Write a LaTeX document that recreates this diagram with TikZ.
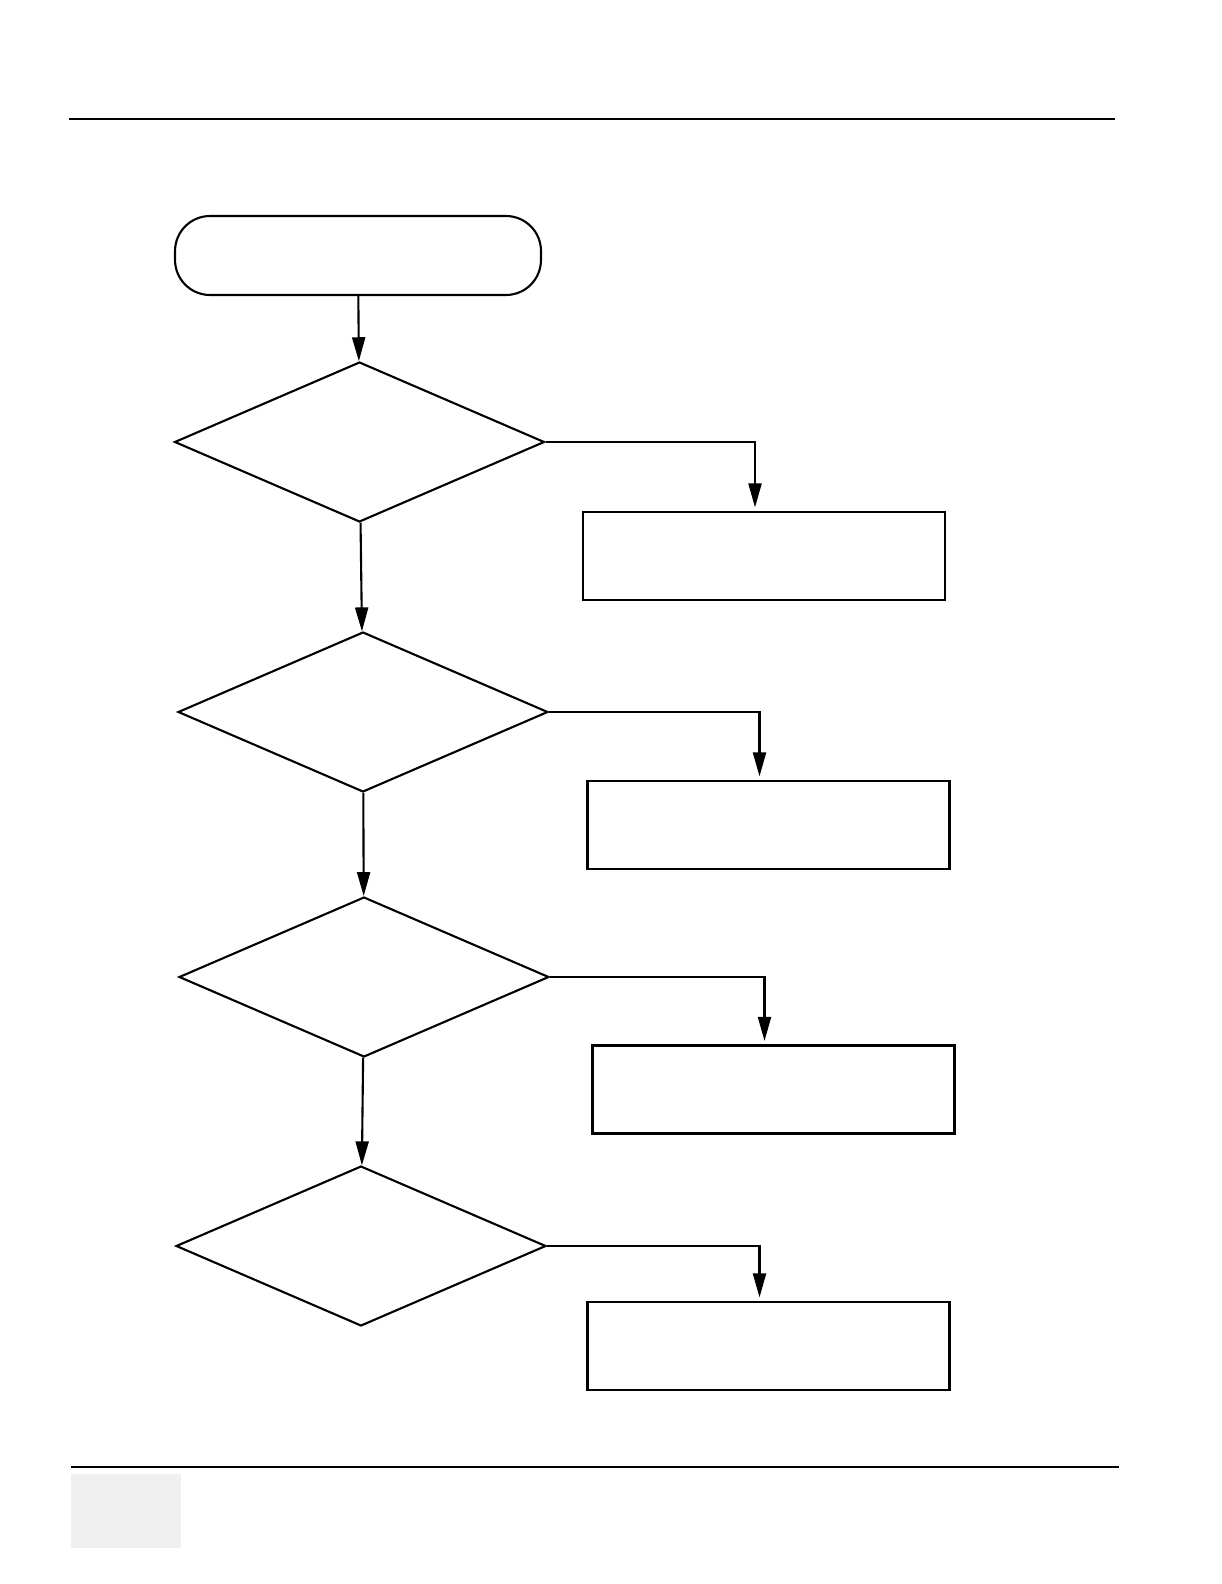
\documentclass[tikz,border=0pt]{standalone}
\usetikzlibrary{shapes.geometric,arrows.meta}
\begin{document}
\begin{tikzpicture}[x=0.02cm,y=-0.02cm,line width=1.2pt,>={Triangle[length=0.48cm,width=0.26cm]},
  decision/.style={draw,diamond,inner sep=0,minimum width=7.4cm,minimum height=3.2cm},
  action/.style={draw,rectangle,inner sep=0,minimum width=7.24cm,minimum height=1.76cm}]
  \useasboundingbox (0,0) rectangle (1222,1584);
  % page rules and footer tab
  \draw (69,119) -- (1115,119);
  \draw[line width=0.8pt] (71,1467) -- (1119,1467);
  \fill[black!6] (71,1474) rectangle (181,1548);
  \node[draw,rounded corners=0.7cm,minimum width=7.32cm,minimum height=1.58cm] (start) at (358,255.5) {};
  \foreach \i/\dx/\dy/\bx/\by in {1/359.5/442/764/556,2/363/712/768.5/825,3/364/977/773.5/1089.5,4/361/1246/768.5/1346} {
    \node[decision] (d\i) at (\dx,\dy) {};
    \node[action] (b\i) at (\bx,\by) {};
    \draw[->,shorten >=2pt] (d\i.east) -| ([xshift=-0.18cm]b\i.north);
  }
  \foreach \a/\b in {start/d1,d1/d2,d2/d3,d3/d4} {
    \draw[->] (\a) -- (\b);
  }
\end{tikzpicture}
\end{document}
